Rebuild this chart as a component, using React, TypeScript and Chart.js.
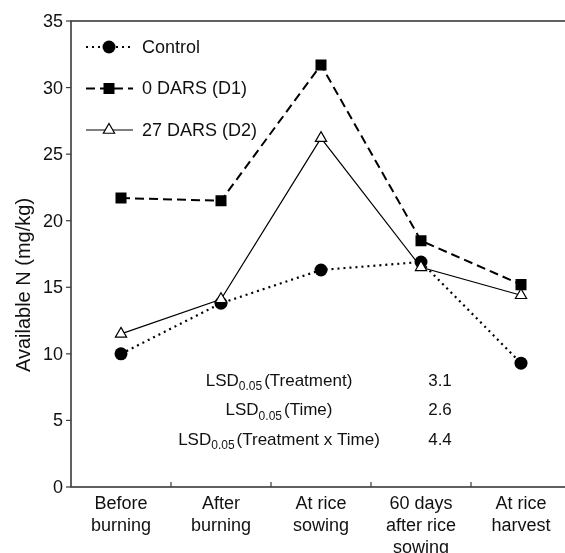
import React, { useEffect, useRef } from "react";
import { Chart, registerables } from "chart.js";

Chart.register(...registerables);

const categories: string[][] = [
  ["Before", "burning"],
  ["After", "burning"],
  ["At rice", "sowing"],
  ["60 days", "after rice", "sowing"],
  ["At rice", "harvest"],
];
const controlValues = [10.0, 13.8, 16.3, 16.9, 9.3];
const d1Values = [21.7, 21.5, 31.7, 18.5, 15.2];
const d2Values = [11.5, 14.1, 26.2, 16.5, 14.4];
const seriesNames = ["Control", "0 DARS (D1)", "27 DARS (D2)"];
const yTicks = [0, 5, 10, 15, 20, 25, 30, 35];
const yTitle = "Available N (mg/kg)";
const lsdLabels = ["(Treatment)", "(Time)", "(Treatment x Time)"];
const lsdValues = ["3.1", "2.6", "4.4"];

const FONT = "'Liberation Sans', Arial, Helvetica, sans-serif";
const AXIS = "#3a3a3a";

const CW = 600;
const CH = 553;

function drawMarker(ctx: CanvasRenderingContext2D, kind: string, x: number, y: number) {
  ctx.save();
  ctx.setLineDash([]);
  ctx.beginPath();
  if (kind === "circle") {
    ctx.arc(x, y, 6.5, 0, Math.PI * 2);
    ctx.fillStyle = "#000";
    ctx.fill();
  } else if (kind === "rect") {
    ctx.rect(x - 5.5, y - 5.5, 11, 11);
    ctx.fillStyle = "#000";
    ctx.fill();
  } else {
    const r = 6.5;
    ctx.moveTo(x, y - r);
    ctx.lineTo(x + r * Math.sin((2 * Math.PI) / 3), y - r * Math.cos((2 * Math.PI) / 3));
    ctx.lineTo(x + r * Math.sin((4 * Math.PI) / 3), y - r * Math.cos((4 * Math.PI) / 3));
    ctx.closePath();
    ctx.fillStyle = "#fff";
    ctx.fill();
    ctx.lineWidth = 1.2;
    ctx.strokeStyle = "#000";
    ctx.stroke();
  }
  ctx.restore();
}

const decorPlugin = {
  id: "decor",
  beforeDatasetsDraw(chart: any) {
    const ctx: CanvasRenderingContext2D = chart.ctx;
    const { left, right, top, bottom } = chart.chartArea;
    const xs = chart.scales.x;
    const ys = chart.scales.y;
    ctx.save();
    // frame
    ctx.strokeStyle = AXIS;
    ctx.lineWidth = 1.6;
    ctx.strokeRect(left, top, right - left, bottom - top);
    // y ticks
    ctx.lineWidth = 1.2;
    ctx.fillStyle = "#111";
    ctx.font = `18px ${FONT}`;
    ctx.textAlign = "right";
    ctx.textBaseline = "middle";
    yTicks.forEach((v) => {
      const y = ys.getPixelForValue(v);
      ctx.beginPath();
      ctx.moveTo(left - 5, y);
      ctx.lineTo(left, y);
      ctx.stroke();
      ctx.fillText(String(v), left - 8, y + 1);
    });
    // x ticks between categories (inward)
    for (let i = 0; i < categories.length - 1; i++) {
      const x = (xs.getPixelForValue(i) + xs.getPixelForValue(i + 1)) / 2;
      ctx.beginPath();
      ctx.moveTo(x, bottom);
      ctx.lineTo(x, bottom - 5);
      ctx.stroke();
    }
    // x labels
    ctx.textAlign = "center";
    ctx.font = `18px ${FONT}`;
    categories.forEach((lines, i) => {
      const x = xs.getPixelForValue(i);
      lines.forEach((ln, j) => {
        ctx.fillText(ln, x, bottom + 17 + j * 22);
      });
    });
    // y title
    ctx.save();
    ctx.translate(30, 285);
    ctx.rotate(-Math.PI / 2);
    ctx.textAlign = "center";
    ctx.textBaseline = "alphabetic";
    ctx.font = `20px ${FONT}`;
    ctx.fillText(yTitle, 0, 0);
    ctx.restore();
    ctx.restore();
  },
  afterDatasetsDraw(chart: any) {
    const ctx: CanvasRenderingContext2D = chart.ctx;
    ctx.save();
    // legend
    const rows = [47, 88.5, 130];
    const kinds = ["circle", "rect", "triangle"];
    const dashes = [[2, 4], [9, 5], []];
    const widths = [2, 2, 1.2];
    rows.forEach((y, i) => {
      ctx.save();
      ctx.strokeStyle = "#000";
      ctx.lineWidth = widths[i];
      ctx.setLineDash(dashes[i]);
      ctx.beginPath();
      ctx.moveTo(86, y);
      ctx.lineTo(133, y);
      ctx.stroke();
      ctx.restore();
      drawMarker(ctx, kinds[i], 109, y);
      ctx.fillStyle = "#111";
      ctx.font = `18px ${FONT}`;
      ctx.textAlign = "left";
      ctx.textBaseline = "middle";
      ctx.fillText(seriesNames[i], 142, y + 1);
    });
    // LSD annotations
    const lsdRows = [381, 410.5, 440];
    lsdRows.forEach((y, i) => {
      ctx.textBaseline = "middle";
      ctx.textAlign = "left";
      ctx.font = `17px ${FONT}`;
      const w1 = ctx.measureText("LSD").width;
      const w3 = ctx.measureText(lsdLabels[i]).width;
      ctx.font = `12px ${FONT}`;
      const w2 = ctx.measureText("0.05").width;
      const gap = 2;
      const total = w1 + w2 + gap + w3;
      let x = 279 - total / 2;
      ctx.fillStyle = "#111";
      ctx.font = `17px ${FONT}`;
      ctx.fillText("LSD", x, y);
      x += w1;
      ctx.font = `12px ${FONT}`;
      ctx.fillText("0.05", x, y + 6);
      x += w2 + gap;
      ctx.font = `17px ${FONT}`;
      ctx.fillText(lsdLabels[i], x, y);
      ctx.textAlign = "center";
      ctx.fillText(lsdValues[i], 440, y);
    });
    ctx.restore();
  },
};

export default function App() {
  const ref = useRef<HTMLCanvasElement | null>(null);
  useEffect(() => {
    if (!ref.current) return;
    const chart = new Chart(ref.current, {
      type: "line",
      data: {
        labels: categories.map((c) => c.join(" ")),
        datasets: [
          {
            label: seriesNames[0],
            data: controlValues,
            borderColor: "#000",
            borderWidth: 2.2,
            borderDash: [2, 4],
            pointStyle: "circle",
            pointRadius: 6.5,
            pointBackgroundColor: "#000",
            pointBorderColor: "#000",
            pointBorderWidth: 0,
            tension: 0,
            order: 2,
          },
          {
            label: seriesNames[1],
            data: d1Values,
            borderColor: "#000",
            borderWidth: 2,
            borderDash: [9, 5],
            pointStyle: "rect",
            pointRadius: 7.8,
            pointBackgroundColor: "#000",
            pointBorderColor: "#000",
            pointBorderWidth: 0,
            tension: 0,
            order: 1,
          },
          {
            label: seriesNames[2],
            data: d2Values,
            borderColor: "#000",
            borderWidth: 1.2,
            pointStyle: "triangle",
            pointRadius: 6.5,
            pointBackgroundColor: "#fff",
            pointBorderColor: "#000",
            pointBorderWidth: 1.2,
            tension: 0,
            order: 0,
          },
        ],
      },
      options: {
        animation: false,
        responsive: false,
        maintainAspectRatio: false,
        devicePixelRatio: 1,
        layout: { padding: { left: 71, right: CW - 571, top: 21, bottom: CH - 487 } },
        plugins: { legend: { display: false }, tooltip: { enabled: false }, title: { display: false } },
        scales: {
          x: { type: "category", offset: true, display: false },
          y: { type: "linear", min: 0, max: 35, display: false },
        },
      },
      plugins: [decorPlugin],
    });
    return () => chart.destroy();
  }, []);
  return (
    <div style={{ position: "fixed", left: 0, top: 0, width: 565, height: 553, overflow: "hidden", background: "#fff" }}>
      <canvas ref={ref} width={CW} height={CH} style={{ width: CW, height: CH, display: "block" }} />
    </div>
  );
}
